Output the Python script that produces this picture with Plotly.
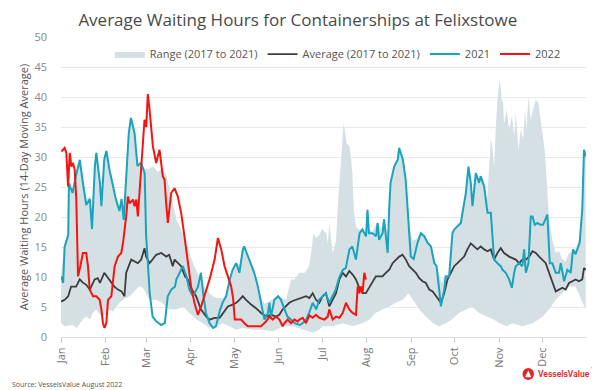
import plotly.graph_objects as go

# ---- axis labels ----
month_labels = ["Jan", "Feb", "Mar", "Apr", "May", "Jun", "Jul", "Aug", "Sep", "Oct", "Nov", "Dec"]
month_start_day = [0, 31, 59, 90, 120, 151, 181, 212, 243, 273, 304, 334]

# ---- 2021 series (day of year, hours) ----
days_2021 = [0, 1.5, 2.5, 5, 5.5, 8, 10.5, 13, 15, 17.5, 20, 21.5, 23.5, 24.5, 27, 28, 30, 31.5, 33.5, 36,
             38, 40.5, 42, 43.5, 45, 47, 48.5, 51, 53, 55.5, 58,
             59, 61.5, 63.5, 66, 69.5, 72, 74, 76.5, 79, 80, 82, 84.5, 87, 89, 91.5, 95, 97, 98.5, 100.5, 103,
             105.5, 107.5, 110, 112, 114.5, 117, 119, 121.5,
             123.7, 126, 127, 129.5, 132, 134, 136.5, 138.5, 141, 143.5, 144.5, 145.5, 148, 150.5, 152.5, 155, 157,
             159.5, 162, 165.5, 167.5, 170, 172, 174.5, 177, 179, 181.5, 183.5,
             186, 188.5, 190.5, 193, 195.5, 197.5, 200, 202, 204.5, 207, 209, 211.5, 212.5, 213.5, 216, 218.5, 219.5,
             220.5, 223, 224, 226.5, 227.5, 228.5, 231, 233.5, 234.5, 237, 239, 241.5, 242.5, 244.5,
             247.2, 249.5, 251.8, 254.2, 256.5, 258.8, 260.4, 262.2, 263.4, 265.7, 266.8, 269.1, 271.4, 272.6, 274.9,
             277.2, 279.5, 280.7, 282.5, 284.1, 285.3, 287.6, 289.9, 291, 293.4, 295.7, 298, 300.3, 302.6, 304.9,
             306.1, 308.4, 310.7, 312.6, 314.2, 315.3, 317.6, 319.9, 321.1, 322.3, 324.1, 325.7, 326.9, 328.5, 330.3,
             332.6, 334.2, 337.2, 338.9, 340.7, 343, 345.3, 346.5, 348.8, 351.1, 353.4, 355, 356.8, 359.6, 361.4,
             362.6, 363.8]
hours_2021 = [10.1, 9.0, 15, 17, 25.6, 24, 27, 29.5, 26, 22, 23, 18, 28.5, 30.7, 25.7, 21.8, 29.6, 31, 28, 25,
              23, 21, 23, 19.5, 26, 34, 36.5, 34, 28.5, 29, 27.3,
              17, 7.3, 3.4, 2.6, 2.0, 2.3, 6.8, 7.9, 8.4, 9.6, 10.7, 11.8, 10.1, 7.9, 6.8, 8.4, 10.7, 7.3, 4.0, 2.3,
              1.5, 1.8, 4.3, 5.7, 6.8, 9.6, 11.2, 12.3,
              10.7, 14.5, 15.1, 13.4, 11.8, 10.7, 8.4, 6.2, 2.9, 4.0, 5.7, 3.4, 6.2, 6.8, 6.2, 4.6, 3.4,
              2.9, 2.3, 2.0, 2.3, 2.9, 4.0, 5.7, 4.6, 6.2, 6.8, 7.3,
              5.7, 6.8, 7.9, 10.0, 11.2, 11.5, 14.6, 15.1, 12.9, 17.3, 17.9, 16.8, 21.2, 17.3, 17.3, 16.8, 19.0,
              16.2, 17.3, 19.6, 14.0, 21.2, 25.7, 28.4, 29.6, 31.5, 29.6, 26.2, 17.3, 13.4, 13.0,
              15.7, 17.3, 16.8, 15.7, 15.1, 12.3, 11.8, 7.9, 5.1, 7.9, 10.1, 10.1, 17.3, 17.9, 18.4,
              19.0, 22.3, 24.0, 28.4, 25.7, 21.8, 27.3, 25.7, 26.8, 25.1, 20.7, 20.7, 12.9, 12.3, 11.8,
              11.2, 10.7, 9.6, 8.2, 10.7, 11.8, 12.3, 11.8, 14.6, 10.7, 12.3, 20.1, 20.1, 18.7, 19.0,
              18.7, 18.7, 20.4, 12.3, 12.3, 10.7, 10.7, 12.3, 9.3, 11.2, 10.7, 14.6, 13.8, 15.7, 21.2,
              31.2, 30.1]

# ---- Average 2017-2021 ----
days_avg = [0, 2.5, 5, 7, 10.5, 13, 15, 17.5, 20, 22, 23.3, 25.5, 27, 30, 32.5, 34.5, 37, 39.5, 42, 44,
            45.2, 48.7, 51, 53.3, 55.6, 57.9,
            59, 61.4, 63.7, 66, 69.5, 73, 75, 77.5, 78.7, 81, 83.3, 86, 88, 90, 93.7, 97, 100.7, 103, 106.5, 110,
            112.2, 115.7, 119, 121.5,
            123.7, 126, 128.3, 131.8, 135.2, 138.7, 142.2, 145.6, 149.1, 151.4, 153.7, 156, 158.3, 160.6, 163,
            167.6, 169.9, 172.2, 174.5, 176.8, 179.1, 181.4, 183.7,
            186, 188.4, 190.7, 193, 195.3, 197.6, 199.9, 202.2, 204.5, 206.8, 209.1, 211.4, 213.7, 216, 218.3,
            220.6, 222.9, 225.2, 227.6, 229.9, 232.2, 234.5, 236.8, 239.1, 241.4, 243.7,
            246, 248.4, 250.7, 253, 255.3, 257.7, 260, 262.2, 263.4, 265.7, 268, 270.3, 272.6, 274.9, 277.2,
            279.5, 281.8, 284.1, 286.4, 288.7, 291, 293.4, 295.7, 298, 300.3, 302.6, 304.9, 307.2,
            310.7, 313, 315.3, 317.6, 319.9, 322.3, 324.6, 326.9, 329.2, 331.5, 333.8, 336.1, 338.4, 340.7, 343,
            345.3, 347.6, 349.9, 352.2, 354.5, 356.8, 359.1, 361.4, 362.6, 363.8]
hours_avg = [5.9, 6.2, 6.8, 8.4, 8.4, 9.6, 9.1, 8.7, 7.9, 9.0, 9.6, 9.8, 9.0, 10.7, 9.8, 9.3, 8.4, 7.9, 7.6, 6.8,
             10.7, 12.9, 12.6, 12.3, 12.9, 14.8,
             13.4, 12.3, 13.0, 13.7, 14.0, 13.4, 13.7, 11.8, 12.9, 12.3, 11.8, 10.1, 9.6, 8.2, 6.8, 4.6, 3.4, 2.9,
             3.2, 3.2, 4.0, 5.1, 5.4, 5.7,
             6.2, 6.8, 6.2, 5.4, 4.8, 4.0, 3.4, 3.7, 3.4, 3.7, 4.6, 5.1, 5.7, 6.0, 6.2,
             6.5, 6.8, 6.5, 7.3, 6.2, 5.7, 6.8, 7.3,
             5.1, 6.2, 7.3, 9.6, 10.7, 10.1, 11.0, 10.4, 9.6, 8.2, 7.3, 7.3, 8.2, 9.0, 10.1,
             10.1, 10.1, 10.7, 11.2, 12.3, 12.9, 13.4, 13.7, 12.9, 11.8, 11.2,
             10.7, 9.8, 9.3, 9.0, 7.9, 7.6, 6.8, 6.2, 5.7, 7.3, 9.6, 10.7, 11.8, 12.3, 12.9,
             13.4, 14.6, 15.6, 15.1, 14.6, 15.1, 14.6, 14.3, 14.6, 12.9, 14.0, 14.8, 14.0,
             13.4, 13.2, 12.9, 12.3, 12.9, 12.9, 13.4, 14.3, 14.0, 13.4, 12.9, 12.3, 10.7, 9.0, 7.6,
             7.9, 8.2, 7.9, 9.0, 9.3, 9.6, 9.3, 9.6, 11.5, 11.2]

# ---- 2022 series ----
days_2022 = [0.2, 2.5, 3.7, 4.9, 6.1, 7.2, 8.3, 9.5, 10.6, 11.8, 13.4, 15.2, 17.5, 18.7, 19.9, 22.2, 24.5, 26.8,
             28, 29.1, 30.2, 31.4, 32.6, 34.9, 37.2, 39.5, 41.8, 43, 45.2, 46.4, 47.5, 49.9, 51, 52.2, 53.3, 55,
             56.5, 57.9, 59.1, 60.2, 61.4, 63.7, 66, 68.3, 70.6, 71.8, 72.9, 74.1, 76.4, 78.7, 81, 83.3, 85.6,
             87.9, 90.2, 92.5, 94.9, 97.2, 99.5, 103, 106.5, 108.8, 111.1, 113.4, 115.7, 118, 119.3, 120.5,
             122.6, 124.9, 127.2, 129.5, 133, 138.7, 142.2, 144.5, 146.8, 149.1, 151.4, 153.7, 154.9, 157.2,
             159.5, 161.8, 164.1, 165.3, 167.6, 169.9, 172.2, 174.5, 176.8, 179.1, 182.6, 184.9, 186, 188.4,
             190.7, 193, 195.3, 197.6, 199.9, 202.2, 204.5, 205.7, 206.8, 208, 209.1, 210.3, 211.4]
hours_2022 = [30.9, 31.5, 30.7, 25.1, 30.7, 28.4, 29.0, 27.9, 22.9, 10.1, 11.8, 14.0, 14.0, 11.8, 7.9, 6.8, 6.8, 6.2,
              4.6, 2.3, 1.5, 2.3, 6.2, 6.8, 11.8, 13.4, 14.0, 15.7, 20.1, 23.4, 22.3, 22.9, 21.8, 22.9, 20.1, 26.8,
              32.0, 36.2, 35.0, 40.5, 37.9, 31.8, 29.0, 31.2, 26.8, 26.2, 22.3, 19.0, 24.0, 24.8, 23.4, 20.7, 16.8,
              12.3, 8.4, 5.7, 3.7, 5.1, 6.8, 9.6, 12.9, 16.5, 14.6, 11.8, 10.1, 8.4, 6.5, 2.9,
              2.9, 2.9, 2.3, 1.8, 1.8, 1.8, 2.6, 3.4, 2.9, 3.4, 2.9, 1.8, 2.3, 2.9,
              2.3, 2.9, 2.6, 2.9, 3.2, 2.3, 3.6, 3.2, 3.7, 3.2, 2.9, 3.4, 4.6, 2.9,
              3.4, 3.2, 4.0, 5.7, 4.6, 4.0, 3.7, 8.4, 7.3, 8.4, 7.3, 10.7, 9.6]

# ---- Range 2017-2021: upper edge ----
days_upper = [0, 2.5, 5, 5.5, 8, 10.5, 13, 15, 17.5, 20, 21.5, 23.5, 24.5, 27, 28, 30, 31.5, 33.5, 36, 38,
              40.5, 42, 43.5, 45, 47, 48.5, 51, 53, 55.5, 58, 61, 64, 67, 70, 73, 76, 80, 85, 88, 92,
              96, 99, 104, 108, 112, 114.5, 117, 119, 121.5, 123.7, 126, 127, 129.5, 132, 134, 136.5, 139, 141, 145, 148,
              150.5, 153, 156, 158, 159.5, 162, 165, 169, 172, 174, 175, 177, 179, 181, 184, 185, 186, 188.4, 190.7, 192,
              194, 196, 198, 200, 201, 202, 203, 204.5, 207, 209, 211.5, 212.5, 213.5, 216, 219.5, 222, 224, 226.5, 227.5, 228.5,
              231, 233.5, 234.5, 237, 239, 241.5, 244, 247, 249.5, 252, 254, 256.5, 259, 262, 264, 266, 269, 271.5, 275, 277,
              279.5, 280.5, 282.5, 284, 285.5, 287.5, 290, 291, 293.5, 295.5, 298, 299, 300.3, 301.5, 302.6, 304.2, 305.6, 306.5, 307.2, 308.9,
              310.7, 312.6, 314.2, 315.3, 317.2, 318.8, 320.4, 321.8, 322.7, 324.1, 325.7, 327.3, 329.2, 331, 332.6, 334.2, 335.6, 336.8, 338.4, 340.7,
              343, 345.3, 347.6, 349.9, 352.2, 354.5, 356.8, 359.1, 361.4, 362.6, 363.8]
hours_upper = [10.5, 15.5, 17.5, 25.8, 24.5, 27.5, 29.8, 26.5, 23, 23.5, 21, 28.8, 31, 26, 24, 30, 31.3, 28.3, 25.5, 23.5,
               21.5, 23.5, 21, 26.3, 34.3, 36.8, 34.3, 29, 29.3, 28, 28, 28.5, 27.5, 28, 27, 24, 19.6, 17, 15, 12,
               10, 8.5, 7, 6.5, 6.5, 7, 9.8, 11.5, 12.5, 12, 14.8, 15.3, 13.6, 12, 11, 8.6, 6.5, 5.5, 6, 6.5,
               7, 6.5, 6.2, 8.4, 9.6, 9.6, 10.7, 10.7, 11.8, 15, 17.3, 16.5, 17, 18, 17.3, 15.5, 19, 14, 16, 22.3,
               28.4, 35.7, 32.3, 31.8, 30, 27.3, 21.2, 18.4, 17.8, 18.2, 17.2, 21.5, 18, 17.6, 19.3, 18, 19.9, 17, 21.5, 26,
               28.7, 29.9, 31.8, 29.9, 26.5, 18, 16, 16.5, 17.6, 17.1, 16, 15.4, 13, 10.5, 9, 10.4, 10.4, 17.6, 18.7, 19.3,
               22.6, 24.3, 28.7, 26, 22.5, 27.6, 26, 27.1, 25.4, 22.9, 32.9, 32, 28.4, 35.1, 39.6, 42.9, 39.6, 39, 35.5, 37.9,
               34.6, 36.8, 33.4, 37.3, 31.2, 34.6, 32.9, 37.9, 34.6, 40.1, 36.2, 37.9, 39.6, 39, 36.2, 34, 30.7, 25.7, 19.6, 16.2,
               14, 14.3, 12.9, 12.6, 14, 14.3, 14.6, 16.2, 21.5, 31.4, 30.3]

# ---- Range 2017-2021: lower edge ----
days_lower = [0, 2.5, 8, 11, 15, 17.5, 20, 22, 24.5, 27, 31, 33.7, 36, 38.3, 40.6, 43, 45.2, 47.5, 49.9, 52,
              54.5, 56.8, 59, 61.4, 66, 70, 75, 80, 84.5, 89, 94, 98.3, 103, 107.6, 112.2, 116.8, 121.4, 126, 133, 140,
              147, 154, 161, 168, 175, 179, 181.4, 188.4, 195.3, 202.2, 209, 214, 218, 223, 227.6, 232, 237, 241, 244, 248.4,
              253, 258, 262, 266.8, 271, 276, 281, 285, 290, 295, 300, 304, 309, 313, 320, 327, 334, 338.4, 343, 347.6,
              352, 356.8, 361, 363.8]
hours_lower = [2.3, 1.8, 2, 1.5, 2.9, 3.4, 2.9, 4, 4.6, 3.7, 3.7, 4.6, 4.2, 5.1, 5.7, 6.2, 6.5, 6.8, 7.3, 7.9,
               8.4, 8.2, 7.3, 6.2, 6.2, 5.7, 4.6, 4.6, 5.1, 4, 2.9, 2.3, 1.5, 1.8, 2.3, 1.8, 1.2, 1.5, 1.2, 1.2,
               0.9, 1.8, 1.8, 1.2, 0.7, 1.2, 1.8, 1.8, 2.3, 1.8, 2.3, 2.9, 4, 4.6, 5.1, 5.7, 6.2, 7.3, 6.2, 4.6,
               3.4, 2.3, 1.8, 2.3, 2.9, 4, 4.6, 5.1, 4, 3.4, 2.9, 2.3, 1.8, 2.3, 1.8, 2.3, 3.4, 4.6, 6.2, 7.3,
               8.4, 8.4, 6.2, 4.6]

FONT = "Open Sans"
TEAL = "#1aa3bd"
RED = "#f7130f"
DARK = "#3c3c3c"
BAND = "#d5e0e4"
LOGO_RED = "#e4262b"

fig = go.Figure()
fig.add_trace(go.Scatter(
    x=days_upper + days_lower[::-1], y=hours_upper + hours_lower[::-1],
    fill="toself", fillcolor=BAND, line=dict(width=0, color=BAND), mode="lines",
    name="Range (2017 to 2021)", hoverinfo="skip"))
fig.add_trace(go.Scatter(x=days_avg, y=hours_avg, mode="lines", name="Average (2017 to 2021)",
                         line=dict(color=DARK, width=1.8)))
fig.add_trace(go.Scatter(x=days_2021, y=hours_2021, mode="lines", name="2021",
                         line=dict(color=TEAL, width=2)))
fig.add_trace(go.Scatter(x=days_2022, y=hours_2022, mode="lines", name="2022",
                         line=dict(color=RED, width=2)))

fig.update_layout(
    width=600, height=390,
    margin=dict(l=53, r=22, t=29, b=61),
    paper_bgcolor="white", plot_bgcolor="white",
    font=dict(family=FONT, color="#555555", size=11),
    title=dict(text="Average Waiting Hours for Containerships at Felixstowe",
               x=0.483, xanchor="center", y=0.968, yanchor="middle",
               font=dict(family=FONT, size=17, color="#4a4a4a")),
    legend=dict(orientation="h", x=0.093, y=0.943, xanchor="left", yanchor="middle",
                font=dict(size=11, color="#555555"), bgcolor="rgba(0,0,0,0)",
                itemwidth=30, traceorder="normal"),
    showlegend=True,
)
fig.update_xaxes(range=[0, 364], tickvals=month_start_day, ticktext=month_labels, tickangle=-90,
                 ticks="outside", ticklen=5, tickcolor="#cccccc", showline=True, linecolor="#dddddd",
                 showgrid=False, zeroline=False, tickfont=dict(size=11, color="#777777"))
fig.update_yaxes(range=[0, 50], dtick=5, showgrid=True, gridcolor="#e9e9e9", zeroline=False,
                 tickfont=dict(size=11, color="#888888"), ticklabelstandoff=13,
                 title=dict(text="Average Waiting Hours (14-Day Moving Average)", standoff=3,
                            font=dict(size=11, color="#555555")))

fig.add_annotation(text="Source: VesselsValue August 2022", xref="paper", yref="paper",
                   x=-0.097, y=-0.157, xanchor="left", yanchor="middle", showarrow=False,
                   font=dict(size=7, color="#555555"))
fig.add_annotation(text="VesselsValue", xref="paper", yref="paper", x=0.905, y=-0.123,
                   xanchor="left", yanchor="middle", showarrow=False,
                   font=dict(size=8.5, color=LOGO_RED, family="Roboto", weight=600))
fig.add_annotation(text="™", xref="paper", yref="paper", x=1.005, y=-0.106,
                   xanchor="left", yanchor="middle", showarrow=False,
                   font=dict(size=4, color=LOGO_RED))
# logo mark
fig.add_shape(type="circle", xref="paper", yref="paper", x0=0.879, x1=0.901, y0=-0.143, y1=-0.103,
              fillcolor=LOGO_RED, line=dict(width=0))
fig.add_shape(type="path", xref="paper", yref="paper",
              path="M 0.884,-0.134 L 0.896,-0.134 L 0.890,-0.112 Z",
              fillcolor="white", line=dict(width=0))

fig.write_html("out.html")
